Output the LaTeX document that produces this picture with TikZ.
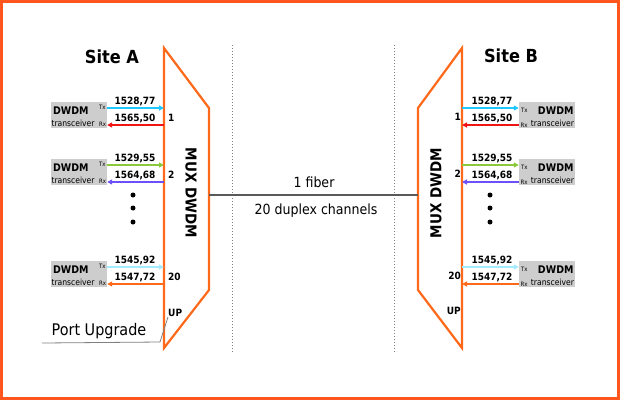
\documentclass[tikz,border=0pt]{standalone}
\usepackage{fontspec}
\setmainfont{DejaVu Sans Condensed}
\usepackage{tikz}
\usetikzlibrary{arrows.meta}
\definecolor{frameor}{RGB}{255,85,30}
\definecolor{muxor}{RGB}{255,105,25}
\definecolor{txone}{RGB}{30,200,255}
\definecolor{rxone}{RGB}{240,20,20}
\definecolor{txtwo}{RGB}{140,200,60}
\definecolor{rxtwo}{RGB}{110,80,250}
\definecolor{txlast}{RGB}{165,235,255}
\definecolor{rxlast}{RGB}{255,105,25}
\definecolor{boxgray}{RGB}{205,205,205}
\tikzset{
  trx/.style={fill=boxgray, minimum width=56pt, minimum height=26pt, inner sep=0pt},
  wl/.style={line width=2pt, -{Triangle[length=5pt,width=5pt]}},
  freq/.style={font=\bfseries\fontsize{10}{10}\selectfont, inner sep=0pt, anchor=south},
  port/.style={font=\bfseries\fontsize{10}{10}\selectfont, inner sep=0pt},
  dwdm/.style={font=\bfseries\fontsize{10.5}{10.5}\selectfont, inner sep=0pt},
  trxtext/.style={font=\fontsize{8.5}{8.5}\selectfont, inner sep=0pt},
  txrx/.style={font=\fontsize{6}{6}\selectfont, inner sep=0pt},
  mux/.style={draw=muxor, line width=2.2pt, line join=miter},
  sep/.style={draw=gray, line width=1pt, dotted},
  dotnode/.style={circle, fill=black, inner sep=0pt, minimum size=5pt}
}
\begin{document}
\begin{tikzpicture}[x=1pt,y=-1pt]
\useasboundingbox (0,0) rectangle (620,400);
\draw [frameor, line width=3pt] (1.5,1.5) rectangle (618.5,398.5);
\draw [sep] (232,45) -- (232,352);
\draw [sep] (394,45) -- (394,352);
\draw [mux] (164,48) -- (209,108) -- (209,290) -- (164,348) -- cycle;
\draw [mux] (462,48) -- (418,108) -- (418,290) -- (462,348) -- cycle;
\node [font=\bfseries\fontsize{15}{15}\selectfont, rotate=-90] (muxa) at (191,193) {MUX DWDM};
\node [font=\bfseries\fontsize{15}{15}\selectfont, rotate=90] (muxb) at (436,193) {MUX DWDM};
\node [font=\bfseries\fontsize{18}{18}\selectfont] (sitea) at (112,57) {Site A};
\node [font=\bfseries\fontsize{18}{18}\selectfont] (siteb) at (511,56) {Site B};
\coordinate (fa) at (209,195);
\coordinate (fb) at (418,195);
\draw [black!65, line width=1.1pt] (fa) -- (fb);
\node [font=\fontsize{14}{14}\selectfont] (fiber) at (314,182) {1 fiber};
\node [font=\fontsize{14}{14}\selectfont] (chans) at (316,211) {20 duplex channels};
\foreach \n/\tx/\rx/\ftx/\frx/\ctx/\crx/\lab in {1/108/125/{1528,77}/{1565,50}/txone/rxone/1,2/165/182/{1529,55}/{1564,68}/txtwo/rxtwo/2,3/267/284/{1545,92}/{1547,72}/txlast/rxlast/20}{
  \node [trx] (a\n) at (79,{(\tx+\rx)/2-1.5}) {};
  \node [trx] (b\n) at (547,{(\tx+\rx)/2-1.5}) {};
  \node [dwdm, anchor=west] at ([xshift=2pt]a\n.west |- 0,{\tx+3}) {DWDM};
  \node [trxtext, anchor=west] at ([xshift=0.5pt]a\n.west |- 0,{\rx-2}) {transceiver};
  \node [txrx, anchor=east] at ([xshift=-1.5pt]a\n.east |- 0,{\tx-1}) {Tx};
  \node [txrx, anchor=east] at ([xshift=-1pt]a\n.east |- 0,{\rx-1}) {Rx};
  \node [dwdm, anchor=east] at ([xshift=-1.5pt]b\n.east |- 0,{\tx+3}) {DWDM};
  \node [trxtext, anchor=east] at ([xshift=-1pt]b\n.east |- 0,{\rx-2}) {transceiver};
  \node [txrx, anchor=west] at ([xshift=2pt]b\n.west |- 0,{\tx+2}) {Tx};
  \node [txrx, anchor=west] at ([xshift=1.5pt]b\n.west |- 0,{\rx}) {Rx};
  \coordinate (ma\n t) at (164,\tx);
  \coordinate (ma\n r) at (164,\rx);
  \coordinate (mb\n t) at (462,\tx);
  \coordinate (mb\n r) at (462,\rx);
  \draw [wl, \ctx] (a\n.east |- ma\n t) -- (ma\n t);
  \draw [wl, \crx] (ma\n r) -- (a\n.east |- ma\n r);
  \draw [wl, \ctx] (mb\n t) -- (b\n.west |- mb\n t);
  \draw [wl, \crx] (b\n.west |- mb\n r) -- (mb\n r);
  \node [freq] at (135,{\tx-2}) {\ftx};
  \node [freq] at (135,{\rx-2}) {\frx};
  \node [freq] at (492,{\tx-2}) {\ftx};
  \node [freq] at (492,{\rx-2}) {\frx};
  \node [port, anchor=west] (pa\n) at (168,{(\tx+\rx)/2+1}) {\lab};
  \node [port, anchor=east] (pb\n) at (461,{(\tx+\rx)/2}) {\lab};
}
\foreach \y [count=\i] in {195,208,222}{
  \node [dotnode] (da\i) at (133,\y) {};
  \node [dotnode] (db\i) at (490,\y) {};
}
\node [port, anchor=west] (upa) at (168,313) {UP};
\node [port, anchor=east] (upb) at (461,311) {UP};
\node [font=\fontsize{16}{16}\selectfont] (pu) at (99,331) {Port Upgrade};
\coordinate (pul) at (42,343);
\coordinate (puk) at (160,342);
\draw [gray, line width=0.8pt] (pul) -- (puk) -- (upa.south west);
\end{tikzpicture}
\end{document}
